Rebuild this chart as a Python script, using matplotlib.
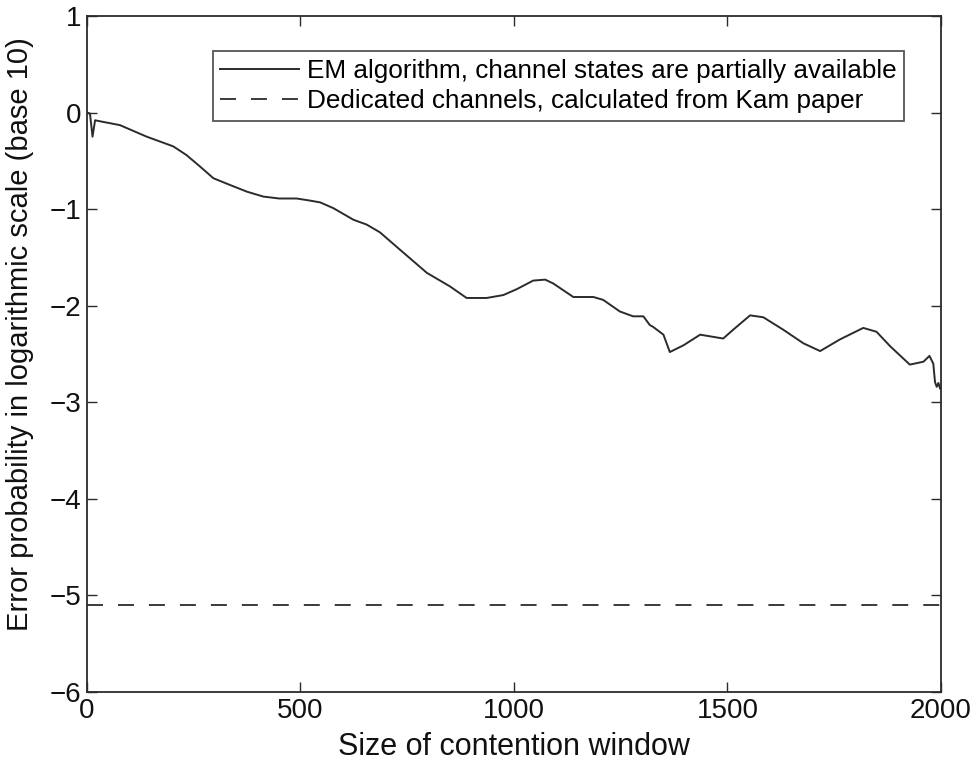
import numpy as np
import matplotlib
matplotlib.use("Agg")
import matplotlib.pyplot as plt

plt.rcParams['font.family'] = ['Liberation Sans', 'DejaVu Sans']
plt.rcParams['lines.scale_dashes'] = False

# EM estimate of the error probability (log10) vs contention window size
window = [0, 7, 13, 19, 30, 77, 140, 202, 233, 265, 296, 335, 375, 413, 450,
          491, 520, 546, 577, 624, 655, 686, 733, 796, 850, 889, 936, 975,
          1006, 1045, 1073, 1092, 1139, 1186, 1209, 1248, 1279, 1303, 1318,
          1326, 1350, 1365, 1397, 1436, 1490, 1513, 1553, 1584, 1631, 1678,
          1717, 1763, 1818, 1849, 1881, 1927, 1959, 1973, 1982, 1986, 1990,
          1994, 1998, 2000]
log_err = [0.0, -0.01, -0.25, -0.08, -0.09, -0.13, -0.25, -0.35, -0.44, -0.56,
           -0.68, -0.75, -0.82, -0.87, -0.89, -0.89, -0.91, -0.93, -0.99,
           -1.11, -1.16, -1.24, -1.42, -1.66, -1.80, -1.92, -1.92, -1.89,
           -1.83, -1.74, -1.73, -1.77, -1.91, -1.91, -1.94, -2.06, -2.11,
           -2.11, -2.20, -2.22, -2.30, -2.48, -2.41, -2.30, -2.34, -2.25,
           -2.10, -2.12, -2.25, -2.39, -2.47, -2.35, -2.23, -2.27, -2.42,
           -2.61, -2.58, -2.52, -2.60, -2.79, -2.84, -2.80, -2.86, -2.83]

# dedicated channels (Kam)
kam_x = [0, 2000]
kam_y = [-5.1, -5.1]

labels = ['EM algorithm, channel states are partially available',
          'Dedicated channels, calculated from Kam paper']

fig = plt.figure(figsize=(9.74, 7.61), dpi=100)
ax = fig.add_axes([0.0893, 0.0907, 0.8768, 0.8883])

ink = '#2b2b2b'
ax.plot(window, log_err, color=ink, lw=1.4, label=labels[0])
ax.plot(kam_x, kam_y, color=ink, lw=1.3, dashes=(11.5, 10.8), label=labels[1])

ax.set_xlim(0, 2000)
ax.set_ylim(-6, 1)
ax.set_xticks([0, 500, 1000, 1500, 2000])
ax.set_yticks(range(-6, 2))
ax.tick_params(direction='in', length=7, width=1.0, top=True, right=True,
               labelsize=20, color=ink, labelcolor='#111111', pad=4)
for s in ax.spines.values():
    s.set_linewidth(1.3)
    s.set_color(ink)

ax.set_xlabel('Size of contention window', fontsize=22, color='#111111', labelpad=6)
ax.set_ylabel('Error probability in logarithmic scale (base 10)', fontsize=21,
              color='#111111')
ax.yaxis.set_label_coords(-0.062, 0.53)

leg = ax.legend(loc='upper right', bbox_to_anchor=(0.9567, 0.9482), fontsize=18.8,
                frameon=True, fancybox=False, handlelength=3.0, handletextpad=0.3,
                borderpad=0.3, labelspacing=0.25, borderaxespad=0)
leg.get_frame().set_edgecolor(ink)
leg.get_frame().set_linewidth(1.3)

fig.savefig('out.png', dpi=100)
